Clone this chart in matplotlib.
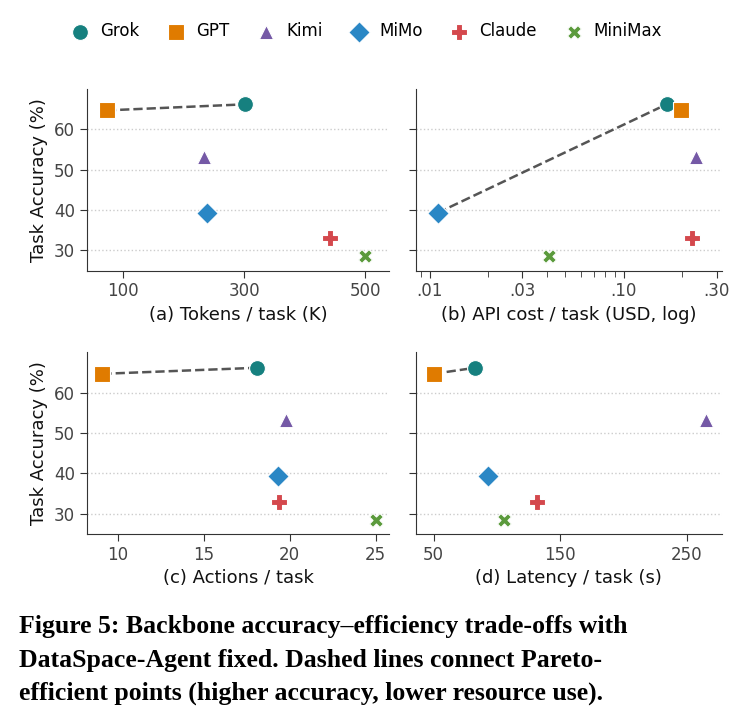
import matplotlib
matplotlib.use("Agg")
import matplotlib.pyplot as plt
from matplotlib.ticker import FixedLocator, NullFormatter

models = ["Grok", "GPT", "Kimi", "MiMo", "Claude", "MiniMax"]
accuracy = [66.2, 64.7, 53.2, 39.3, 33.0, 28.5]
tokens = [301, 73, 234, 239, 442, 500]
api_cost = [0.166, 0.198, 0.235, 0.011, 0.224, 0.041]
actions = [18.1, 9.1, 19.8, 19.3, 19.4, 25.0]
latency = [83, 50, 265, 93, 132, 106]

colors = ["#16807f", "#e07b00", "#7559a6", "#2a87c5", "#d4484d", "#5b9a3c"]
markers = ["o", "s", "^", "D", "P", "X"]
sizes = [130, 130, 105, 120, 125, 100]

panels = [
    (tokens, "(a) Tokens / task (K)", ["GPT", "Grok"], [100, 300, 500], ["100", "300", "500"], (40, 540), False),
    (api_cost, "(b) API cost / task (USD, log)", ["MiMo", "Grok"], [0.01, 0.03, 0.10, 0.30], [".01", ".03", ".10", ".30"], (0.0085, 0.32), True),
    (actions, "(c) Actions / task", ["GPT", "Grok"], [10, 15, 20, 25], ["10", "15", "20", "25"], (8.2, 25.8), False),
    (latency, "(d) Latency / task (s)", ["GPT", "Grok"], [50, 150, 250], ["50", "150", "250"], (36, 278), False),
]

fig = plt.figure(figsize=(7.56, 7.12), dpi=100)
boxes = [(0.115, 0.62, 0.40, 0.255), (0.55, 0.62, 0.405, 0.255),
         (0.115, 0.25, 0.40, 0.255), (0.55, 0.25, 0.405, 0.255)]

for i, (xs, label, pareto, ticks, ticklabels, xlim, logx) in enumerate(panels):
    ax = fig.add_axes(boxes[i])
    if logx:
        ax.set_xscale("log")
    px = [xs[models.index(m)] for m in pareto]
    py = [accuracy[models.index(m)] for m in pareto]
    ax.plot(px, py, "--", color="#555555", lw=1.8, zorder=2)
    for j, m in enumerate(models):
        ax.scatter(xs[j], accuracy[j], color=colors[j], marker=markers[j], s=sizes[j],
                   edgecolors="white", linewidths=0.8, zorder=3, label=m)
    ax.set_xlim(*xlim)
    ax.set_ylim(25, 70)
    ax.xaxis.set_major_locator(FixedLocator(ticks))
    ax.set_xticklabels(ticklabels)
    if logx:
        ax.xaxis.set_minor_formatter(NullFormatter())
        ax.tick_params(axis="x", which="minor", length=4, color="#333333")
    ax.set_yticks([30, 40, 50, 60])
    ax.yaxis.grid(True, linestyle=":", color="#cccccc", lw=1)
    ax.set_axisbelow(True)
    for s in ["top", "right"]:
        ax.spines[s].set_visible(False)
    ax.spines["left"].set_color("#333333")
    ax.spines["bottom"].set_color("#333333")
    ax.tick_params(labelsize=12, colors="#333333", length=5)
    ax.tick_params(labelcolor="#444444")
    ax.set_xlabel(label, fontsize=13, color="#111111")
    if i % 2 == 0:
        ax.set_ylabel("Task Accuracy (%)", fontsize=13, color="#111111")
    else:
        ax.set_yticklabels([])
    if i == 0:
        handles, labels = ax.get_legend_handles_labels()

fig.legend(handles, labels, loc="upper center", bbox_to_anchor=(0.48, 0.99), ncol=6,
           frameon=False, fontsize=12, handletextpad=0.2, columnspacing=1.2)

caption = ["Figure 5: Backbone accuracy\u2013efficiency trade-offs with",
           "DataSpace-Agent fixed. Dashed lines connect Pareto-",
           "efficient points (higher accuracy, lower resource use)."]
for k, line in enumerate(caption):
    fig.text(0.025, 0.12 - k * 0.047, line, fontsize=18.5, fontweight="bold",
             family="Liberation Serif", va="center")

fig.savefig("out.png", dpi=100)
